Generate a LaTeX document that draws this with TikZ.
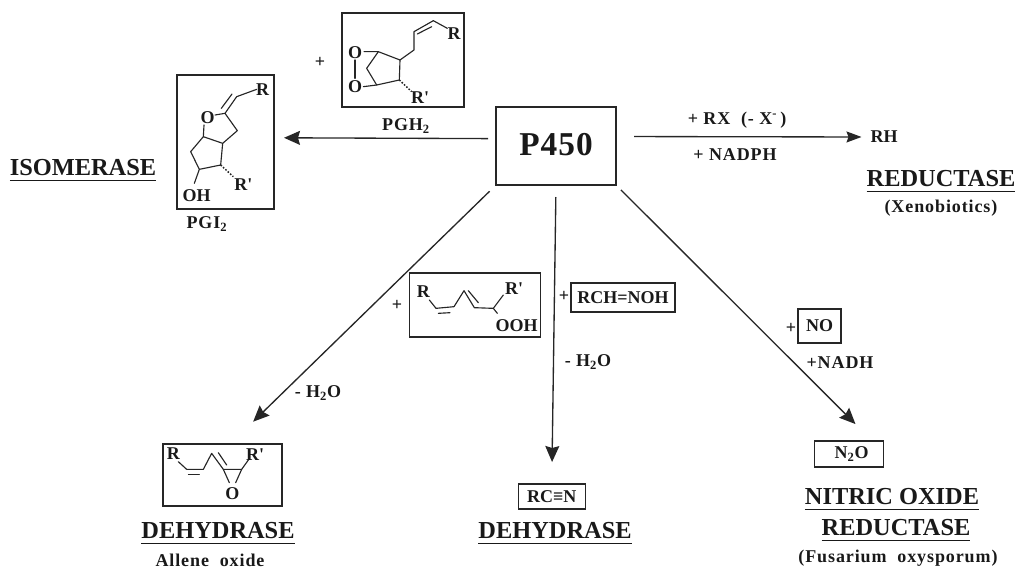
\documentclass[tikz,border=0pt]{standalone}
\usepackage{fontspec}
\usetikzlibrary{arrows.meta}
\setmainfont{Liberation Serif}[BoldFont={Liberation Serif Bold}]
\newfontfamily\trk[LetterSpace=5]{Liberation Serif Bold}
\def\u{0.75pt}
\newcommand{\ulbl}[1]{\setbox0\hbox{#1}\leavevmode\rlap{\rule[-4.6pt]{\wd0}{1.1pt}}\box0}
\newcommand{\rp}{R\textquotesingle}
\tikzset{
  every node/.style={inner sep=0pt,outer sep=0pt},
  boxed/.style={draw=black!85,line width=0.85pt,rectangle,anchor=center},
  lbl/.style={font=\trk\fontsize{13.5}{15}\selectfont,text=black!90},
  atom/.style={font=\bfseries\fontsize{13.5}{15}\selectfont,text=black!90},
  smallbox/.style={font=\bfseries\fontsize{13.5}{15}\selectfont,text=black!90},
  enzyme/.style={font=\bfseries\fontsize{18.3}{22}\selectfont,text=black!90},
  bond/.style={line width=0.85pt,draw=black!85,line cap=round,line join=round},
  hash/.style={line width=1.1pt,draw=black!85,dash pattern=on 1.2pt off 1.2pt},
  rxn/.style={line width=1pt,draw=black!85,-{Stealth[length=16*\u,width=14*\u,inset=2*\u]}},
  rxnsmall/.style={line width=1pt,draw=black!85,-{Stealth[length=15*\u,width=11*\u,inset=2*\u]}}
}
\begin{document}
\begin{tikzpicture}[x=\u,y=-\u]
\useasboundingbox (0,0) rectangle (1019,569);
% boxes
\node[boxed,line width=1.1pt,minimum width=120*\u,minimum height=78*\u] (p450) at (556,146) {};
\node[font=\bfseries\fontsize{25}{28}\selectfont,text=black!90] (p450t) at (556,145) {\addfontfeature{LetterSpace=3}P450};
\node[boxed,minimum width=122*\u,minimum height=94*\u] (pgh) at (403,60) {};
\node[boxed,minimum width=97*\u,minimum height=134*\u] (pgi) at (225.5,142) {};
\node[boxed,minimum width=119*\u,minimum height=62*\u] (allene) at (222.5,475) {};
\node[boxed,minimum width=131*\u,minimum height=64*\u] (hpo) at (475,305) {};
\node[boxed,smallbox,minimum width=104*\u,minimum height=29*\u] (oxime) at (623,297.5) {RCH=NOH};
\node[boxed,smallbox,minimum width=67*\u,minimum height=25*\u] (nitrile) at (551.75,496.5) {RC≡N};
\node[boxed,smallbox,minimum width=43*\u,minimum height=34*\u] (no) at (819.5,326) {NO};
\node[boxed,smallbox,minimum width=69*\u,minimum height=26*\u] (ntwoo) at (849,454) {\hspace*{4pt}N\textsubscript{2}O};
\node[smallbox] (rh) at (884,137) {RH};
% texts
\node[lbl] (plus1) at (320,62) {+};
\node[lbl] (pghl) at (406,126) {PGH\textsubscript{2}};
\node[lbl] (pgil) at (207,224) {PGI\textsubscript{2}};
\node[enzyme] (iso) at (83,170) {\ulbl{ISOMERASE}};
\node[lbl] (rx) at (737,120) {+ RX\ \ (- X\textsuperscript{-}\,)};
\node[lbl] (nadph) at (735,155) {+ NADPH};
\node[enzyme] (red1) at (941,181) {\ulbl{REDUCTASE}};
\node[lbl] (xeno) at (941,208) {(Xenobiotics)};
\node[lbl] (plus2) at (397,305) {+};
\node[lbl] (w1) at (318,393) {- H\textsubscript{2}O};
\node[lbl] (plus3) at (564,296) {+};
\node[lbl] (w2) at (588,362) {- H\textsubscript{2}O};
\node[lbl] (plus4) at (791,328) {+};
\node[lbl] (nadh) at (840,363) {+NADH};
\node[enzyme] (deh1) at (218,533) {\ulbl{DEHYDRASE}};
\node[lbl] (allox) at (210,560) {Allene\ \ oxide};
\node[enzyme] (deh2) at (555,533) {\ulbl{DEHYDRASE}};
\node[enzyme] (nox) at (892,499) {\ulbl{NITRIC OXIDE}};
\node[enzyme] (red2) at (896,530) {\ulbl{REDUCTASE}};
\node[lbl] (fus) at (898,558) {(Fusarium\ \ oxysporum)};
% reaction arrows
\draw[rxn,shorten <=8*\u,shorten >=10*\u] (p450.173.3) -- (pgi.5.9);
\draw[rxnsmall,shorten <=18*\u,shorten >=9*\u] (p450.9.5) -- (rh.west);
\draw[rxn,shorten <=9*\u,shorten >=32*\u] (p450.south west) -- (allene.76.4);
\draw[rxn,shorten <=12*\u,shorten >=22*\u] (p450.south) -- (nitrile.north);
\draw[rxn,shorten <=7*\u,shorten >=24*\u] (p450.south east) -- (ntwoo.29.5);
% PGH2 structure
\begin{scope}[shift={(160,0)},x=0.25pt,y=-0.25pt]
\node[atom] (a1) at (585,157) {O};
\node[atom] (a2) at (585,260) {O};
\node[atom] (a3) at (882,102) {R};
\node[atom] (a4) at (780,292) {\rp};
\draw[bond] (585,180)--(585,235);
\draw[bond] (612,155)--(655,155)--(720,180)--(718,240)--(650,255)--(610,260);
\draw[bond] (655,155)--(620,205)--(650,255);
\draw[bond] (720,180)--(762,150)--(762,95)--(820,62)--(862,85);
\draw[bond] (772,102)--(815,80);
\draw[hash] (718,240)--(755,275);
% PGI2 structure
\node[atom] (b1) at (308,270) {R};
\node[atom] (b2) at (143,352) {O};
\node[atom] (b3) at (110,588) {OH};
\node[atom] (b4) at (250,553) {\rp};
\draw[bond] (290,268)--(230,290)--(195,340)--(232,392)--(188,430)--(130,410)--(132,375);
\draw[bond] (216,282)--(184,325);
\draw[bond] (165,345)--(195,340);
\draw[bond] (130,410)--(92,455)--(118,508)--(182,495)--(188,430);
\draw[bond] (118,508)--(103,550);
\draw[hash] (182,495)--(220,530);
\end{scope}
% allene oxide and hydroperoxide
\begin{scope}[shift={(140,260)},x=0.25pt,y=-0.25pt]
\node[atom] (c1) at (100,582) {R};
\node[atom] (c2) at (345,585) {\rp};
\node[atom] (c3) at (277,702) {O};
\draw[bond] (115,605)--(140,628)--(190,628)--(215,580)--(250,628)--(305,628)--(325,600);
\draw[bond] (250,628)--(268,668);
\draw[bond] (305,628)--(287,668);
\draw[bond] (145,643)--(178,643);
\draw[bond] (235,578)--(260,615);
\node[atom] (d1) at (850,95) {R};
\node[atom] (d2) at (1122,85) {\rp};
\node[atom] (d3) at (1130,197) {OOH};
\draw[bond] (868,120)--(888,145)--(942,140)--(972,92)--(1003,143)--(1060,145)--(1090,105);
\draw[bond] (1060,145)--(1072,160);
\draw[bond] (895,160)--(930,158);
\draw[bond] (985,92)--(1015,128);
\end{scope}
\end{tikzpicture}
\end{document}
